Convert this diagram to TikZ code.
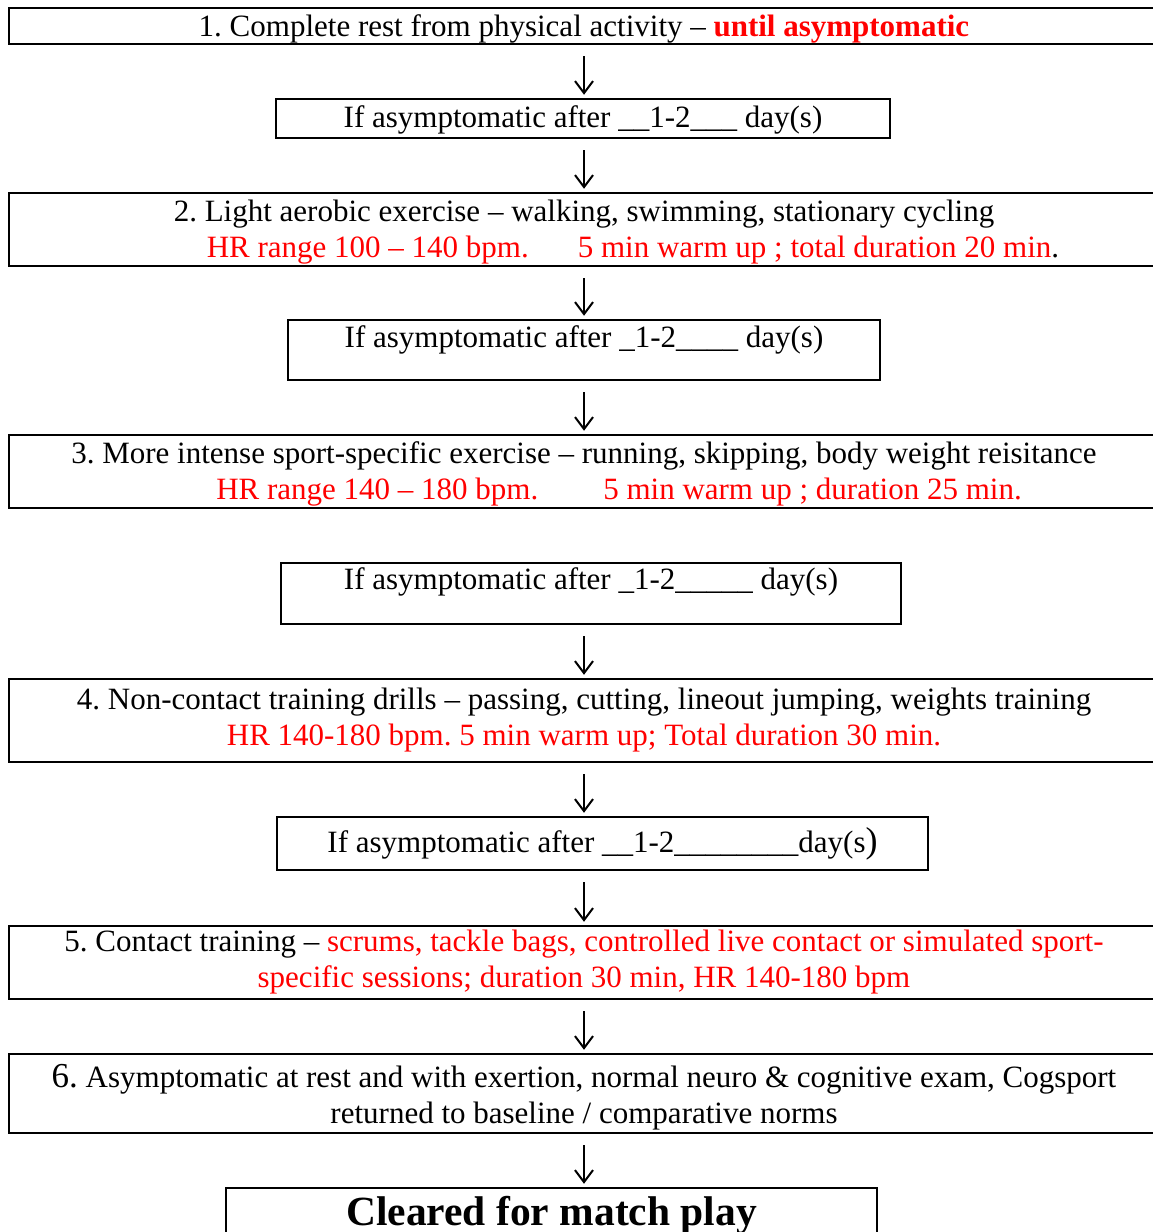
\documentclass[tikz,border=0pt]{standalone}
\usepackage{fontspec}
\setmainfont{Liberation Serif}
\usepackage{tikz}
\usetikzlibrary{arrows.meta}
\definecolor{hot}{RGB}{255,0,0}
\frenchspacing

\begin{document}
\begin{tikzpicture}[
    x=1pt,y=-1pt,
    box/.style={draw,line width=2.5pt,rectangle,inner sep=0pt,align=center,
      font=\fontsize{31}{36}\selectfont},
    wide/.style={box,minimum width=1150pt},
    arr/.style={line width=2pt,-{Straight Barb[length=12pt,width=18pt,line width=2pt]},
      shorten <=11pt,shorten >=3pt},
    red/.style={text=hot}
    ]
    \useasboundingbox (0, 0) rectangle (1153, 1232);
    \coordinate (axis) at (584, 0);
    \node[wide,minimum height=36pt,text height=21pt,text depth=1pt] (rest) at (584, 26)
      {1. Complete rest from physical activity -- \textcolor{hot}{\bfseries until asymptomatic}};
    \node[box,minimum width=614pt,minimum height=39pt,text height=21pt,text depth=3pt] (waitA) at (583, 118.5)
      {If asymptomatic after \_\_1-2\_\_\_ day(s)};
    \node[wide,minimum height=73pt,text depth=1pt] (aerobic) at (584, 229.5)
      {2. Light aerobic exercise -- walking, swimming, stationary cycling\\
       \hspace*{98pt}\textcolor{hot}{HR range 100 -- 140 bpm.\hspace{49pt}5 min warm up ; total duration 20 min}.};
    \node[box,minimum width=592pt,minimum height=60pt,text depth=27pt,text height=21pt] (waitB) at (584, 350)
      {If asymptomatic after \_1-2\_\_\_\_ day(s)};
    \node[wide,minimum height=73pt,text depth=1pt] (sport) at (584, 471.5)
      {3. More intense sport-specific exercise -- running, skipping, body weight reisitance\\
       \hspace*{70pt}\textcolor{hot}{HR range 140 -- 180 bpm.\hspace{65pt}5 min warm up ; duration 25 min.}};
    \node[box,minimum width=620pt,minimum height=61pt,text depth=29pt,text height=21pt] (waitC) at (591, 593.5)
      {If asymptomatic after \_1-2\_\_\_\_\_ day(s)};
    \node[wide,minimum height=83pt] (drills) at (584, 720.5)
      {4. Non-contact training drills -- passing, cutting, lineout jumping, weights training\\
       \textcolor{hot}{HR 140-180 bpm. 5 min warm up; Total duration 30 min.}};
    \node[box,minimum width=651pt,minimum height=53pt] (waitD) at (602.5, 843.5)
      {If asymptomatic after \_\_1-2\_\_\_\_\_\_\_\_day(s{\fontsize{36}{36}\selectfont)}};
    \node[wide,minimum height=73pt] (contact) at (584, 962.5)
      {5. Contact training -- \textcolor{hot}{scrums, tackle bags, controlled live contact or simulated sport-}\\
       \textcolor{hot}{specific sessions; duration 30 min, HR 140-180 bpm}};
    \node[wide,minimum height=79pt,text depth=0pt] (norms) at (584, 1093.5)
      {{\fontsize{35}{36}\selectfont 6.} Asymptomatic at rest and with exertion, normal neuro \& cognitive exam, Cogsport\\
       returned to baseline / comparative norms};
    \node[box,minimum width=651pt,minimum height=64pt,text depth=18pt,
      font=\fontsize{41.5}{44}\selectfont\bfseries] (cleared) at (551.5, 1220)
      {Cleared for match play};
    \draw[arr] (rest.south -| axis) -- (waitA.north -| axis);
    \draw[arr] (waitA.south -| axis) -- (aerobic.north -| axis);
    \draw[arr] (aerobic.south -| axis) -- (waitB.north -| axis);
    \draw[arr] (waitB.south -| axis) -- (sport.north -| axis);
    \draw[arr] (waitC.south -| axis) -- (drills.north -| axis);
    \draw[arr] (drills.south -| axis) -- (waitD.north -| axis);
    \draw[arr] (waitD.south -| axis) -- (contact.north -| axis);
    \draw[arr] (contact.south -| axis) -- (norms.north -| axis);
    \draw[arr] (norms.south -| axis) -- (cleared.north -| axis);
  \end{tikzpicture}
\end{document}
